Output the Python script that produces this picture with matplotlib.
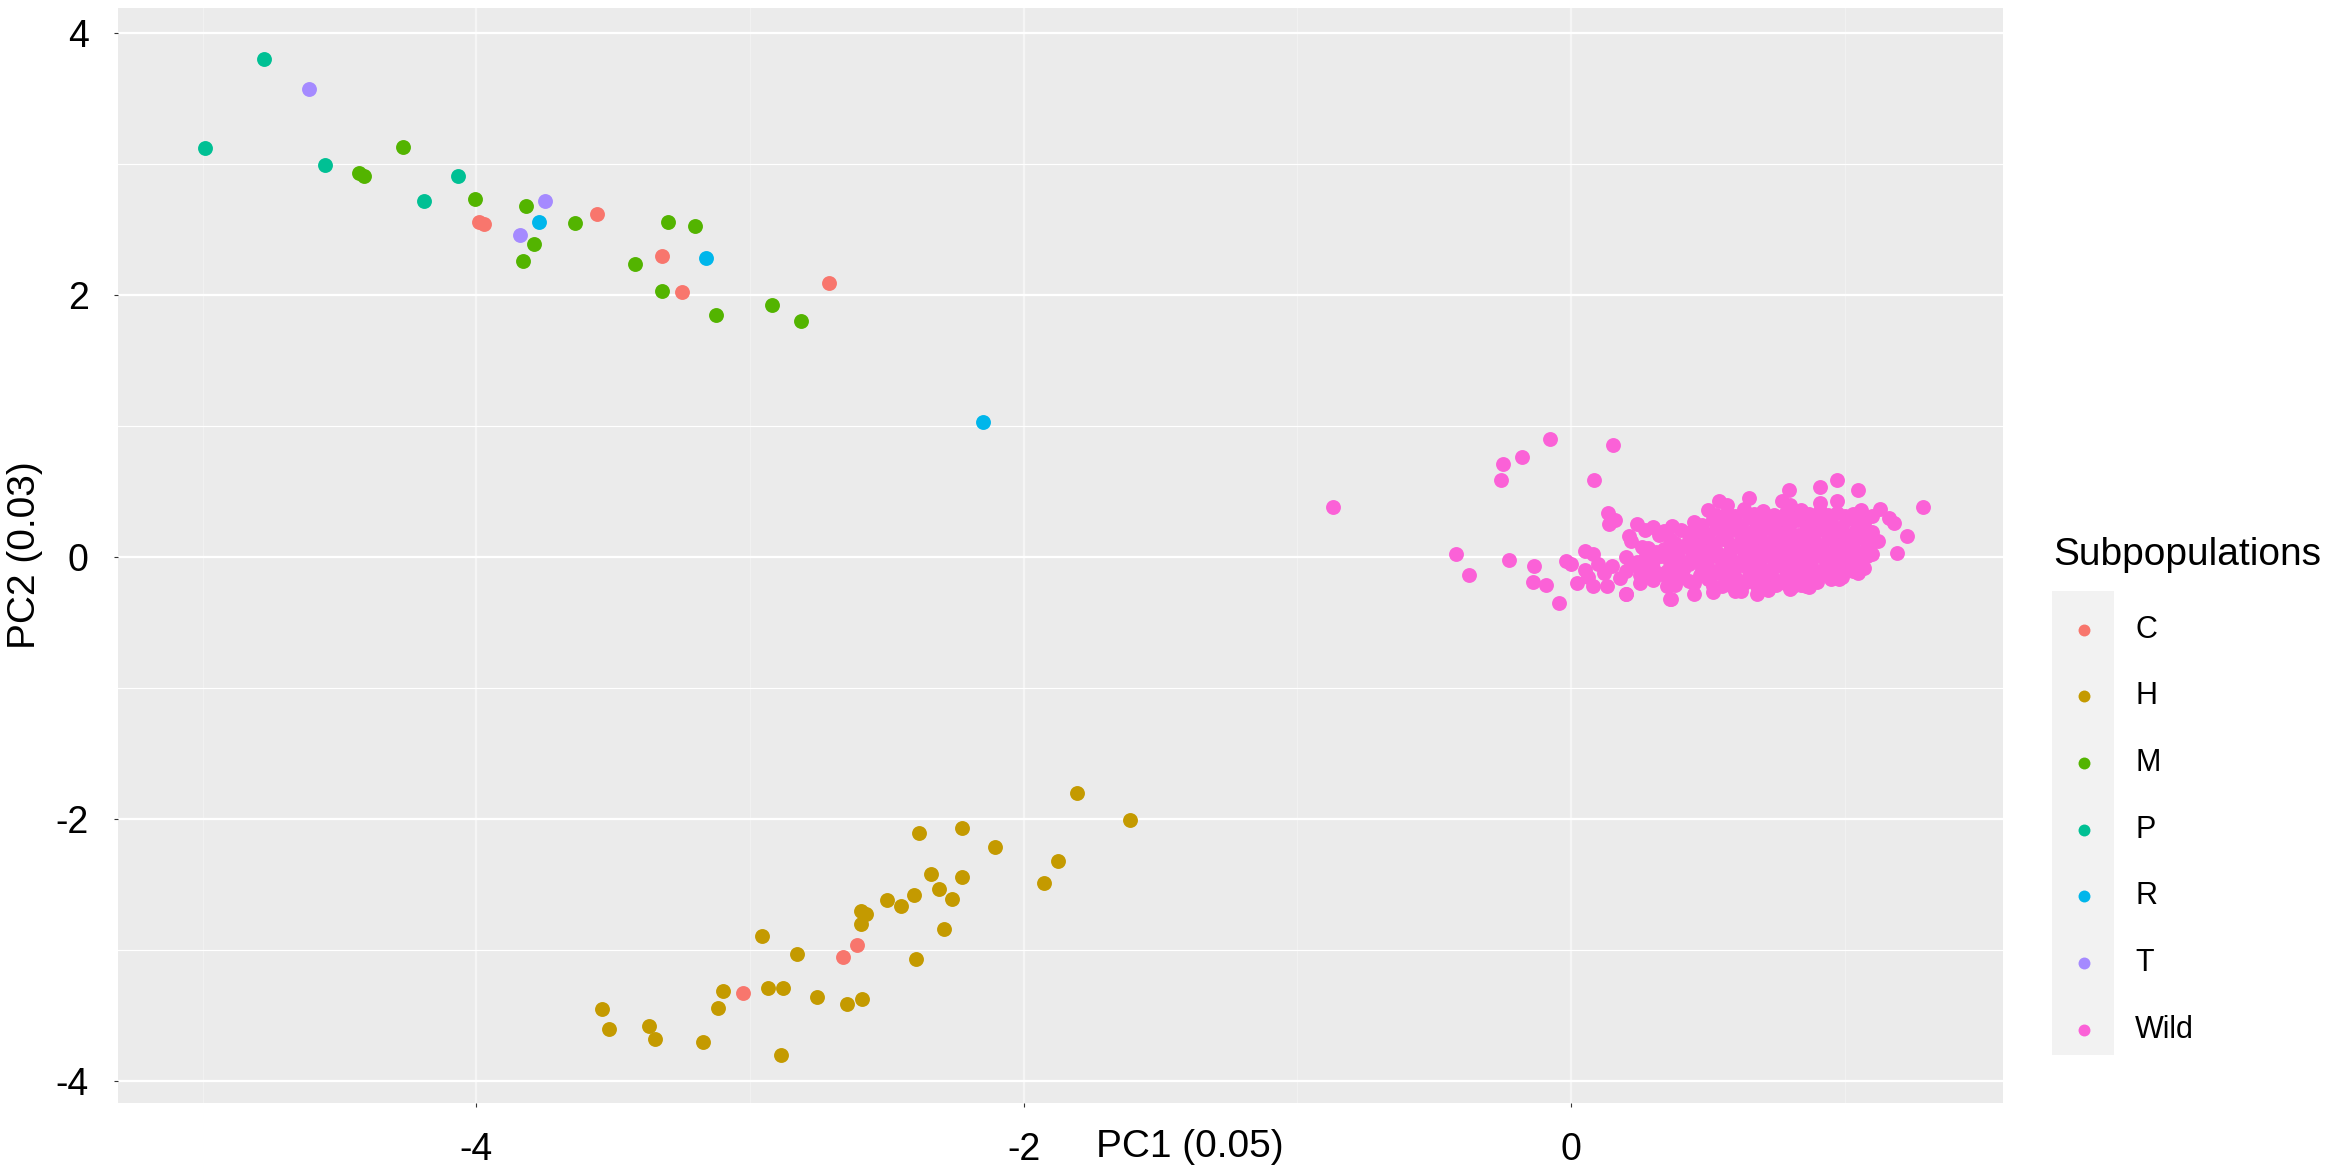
import matplotlib
matplotlib.use('Agg')
import matplotlib.pyplot as plt
from matplotlib.patches import Rectangle

# ---------------- data ----------------
groups = ['C', 'H', 'M', 'P', 'R', 'T', 'Wild']
colors = ['#F8766D', '#C49A00', '#53B400', '#00C094', '#00B6EB', '#A58AFF', '#FB61D7']

c_x = [-3.99, -3.97, -3.56, -3.32, -3.25, -2.71, -2.609, -2.66, -3.024]
c_y = [2.56, 2.54, 2.62, 2.30, 2.02, 2.09, -2.96, -3.05, -3.33]

h_x = [-1.805, -1.613, -2.383, -2.227, -2.103, -1.875, -1.927, -2.34, -2.224, -2.31,
       -2.263, -2.40, -2.50, -2.45, -2.595, -2.576, -2.595, -2.29, -2.395, -2.956,
       -2.827, -2.935, -2.878, -2.755, -2.645, -2.59, -3.10, -3.117, -3.54, -3.514,
       -3.37, -3.346, -3.173, -2.887]
h_y = [-1.80, -2.005, -2.107, -2.07, -2.21, -2.32, -2.49, -2.42, -2.44, -2.53,
       -2.61, -2.58, -2.62, -2.66, -2.70, -2.72, -2.80, -2.84, -3.07, -2.89,
       -3.03, -3.29, -3.29, -3.36, -3.41, -3.37, -3.31, -3.44, -3.45, -3.60,
       -3.58, -3.68, -3.70, -3.80]

m_x = [-4.43, -4.41, -4.267, -4.005, -3.82, -3.79, -3.83, -3.64, -3.30, -3.20,
       -3.42, -3.32, -3.125, -2.92, -2.815]
m_y = [2.93, 2.91, 3.13, 2.73, 2.68, 2.39, 2.26, 2.55, 2.56, 2.53,
       2.24, 2.03, 1.85, 1.92, 1.80]

p_x = [-4.99, -4.774, -4.552, -4.068, -4.19]
p_y = [3.12, 3.80, 2.99, 2.91, 2.72]

r_x = [-3.77, -3.16, -2.15]
r_y = [2.56, 2.28, 1.03]

t_x = [-4.61, -3.75, -3.84]
t_y = [3.57, 2.72, 2.46]

wild_x = [
    # dense core
    0.50, 0.57, 0.63, 0.70, 0.78, 0.84, 0.91, 0.97, 1.03,
    0.45, 0.52, 0.58, 0.65, 0.71, 0.77, 0.83, 0.90, 0.95, 1.01, 1.07,
    0.40, 0.47, 0.53, 0.60, 0.66, 0.72, 0.79, 0.86, 0.92, 0.98, 1.04, 1.10,
    0.36, 0.43, 0.49, 0.55, 0.62, 0.68, 0.74, 0.81, 0.87, 0.94, 1.00, 1.06, 1.12,
    0.28, 0.34, 0.41, 0.47, 0.53, 0.60, 0.66, 0.72, 0.79, 0.85, 0.91, 0.97, 1.03, 1.09,
    0.20, 0.27, 0.33, 0.39, 0.46, 0.52, 0.58, 0.65, 0.71, 0.77, 0.84, 0.90, 0.96, 1.02, 1.08,
    0.15, 0.22, 0.30, 0.37, 0.43, 0.50, 0.56, 0.62, 0.69, 0.75, 0.81, 0.88, 0.94, 1.00,
    0.25, 0.33, 0.40, 0.47, 0.54, 0.60, 0.67, 0.73, 0.80, 0.86, 0.92, 0.99,
    0.38, 0.45, 0.52, 0.58, 0.64, 0.71, 0.78, 0.84, 0.90,
    0.52, 0.60, 0.68,
    0.53, 0.60, 0.67, 0.74, 0.81, 0.87, 0.94, 1.00, 1.05,
    0.48, 0.55, 0.62, 0.68, 0.74, 0.80, 0.87, 0.93, 0.99, 1.05,
    0.44, 0.50, 0.57, 0.63, 0.69, 0.76, 0.83, 0.89, 0.95, 1.01, 1.07,
    0.38, 0.45, 0.52, 0.58, 0.65, 0.71, 0.77, 0.84, 0.90, 0.97, 1.03, 1.08,
    0.31, 0.37, 0.44, 0.50, 0.57, 0.63, 0.69, 0.76, 0.82, 0.88, 0.94, 1.00, 1.06,
    0.24, 0.30, 0.36, 0.43, 0.49, 0.55, 0.62, 0.68, 0.74, 0.80, 0.87, 0.93, 0.99, 1.05,
    0.20, 0.28, 0.35, 0.41, 0.48, 0.53, 0.59, 0.65, 0.71, 0.78, 0.84, 0.91, 0.97, 1.03,
    0.30, 0.37, 0.43, 0.50, 0.57, 0.63, 0.70, 0.76, 0.83, 0.89, 0.95,
    0.55, 0.62, 0.68, 0.75, 0.81, 0.87,
    # edges of the cloud
    0.135, 0.14, 0.16, 0.30, 0.32, 0.44, 0.54, 0.57, 0.65, 0.77, 0.80, 0.91, 0.97, 1.06,
    1.10, 1.13, 1.16, 1.18, 1.09, 1.10, 1.07, 1.05, 0.98, 0.05, 0.00, -0.02, 0.02, 0.06,
    0.08, 0.12, 0.10, 0.05, 0.08, 0.20, 0.25, 0.22, 0.26, 0.36, 0.45, 0.62, 0.72, 0.80,
    0.86, 0.18, 0.13, 0.35, 0.29,
    0.24, 0.27, 0.21, 0.37, 0.34,
    # outlying individuals
    -0.871, -0.077, 0.152, -0.18, -0.248, -0.255, 0.085, -0.42, -0.374, -0.227, -0.137,
    -0.14, -0.093, -0.044, 1.286, 1.228, 1.19, 1.049, 0.972, 0.91, 0.797, 0.20, 0.364]
wild_y = [
    0.36, 0.34, 0.37, 0.35, 0.33, 0.36, 0.35, 0.34, 0.33,
    0.27, 0.29, 0.28, 0.30, 0.27, 0.29, 0.28, 0.30, 0.27, 0.29, 0.26,
    0.21, 0.20, 0.22, 0.21, 0.19, 0.22, 0.20, 0.21, 0.22, 0.20, 0.21, 0.19,
    0.14, 0.13, 0.15, 0.14, 0.12, 0.15, 0.14, 0.13, 0.15, 0.14, 0.13, 0.15, 0.12,
    0.07, 0.06, 0.08, 0.07, 0.05, 0.08, 0.07, 0.06, 0.08, 0.07, 0.06, 0.08, 0.07, 0.05,
    0.00, -0.01, 0.01, 0.00, -0.02, 0.01, 0.00, -0.01, 0.01, 0.00, -0.02, 0.01, 0.00, -0.01, 0.01,
    -0.07, -0.06, -0.08, -0.07, -0.05, -0.08, -0.07, -0.06, -0.08, -0.07, -0.06, -0.08, -0.07, -0.06,
    -0.14, -0.13, -0.15, -0.14, -0.12, -0.15, -0.14, -0.13, -0.15, -0.14, -0.13, -0.15,
    -0.21, -0.20, -0.22, -0.21, -0.19, -0.22, -0.20, -0.21, -0.19,
    -0.27, -0.26, -0.28,
    0.32, 0.31, 0.33, 0.32, 0.30, 0.33, 0.32, 0.31, 0.30,
    0.245, 0.25, 0.24, 0.25, 0.23, 0.25, 0.24, 0.25, 0.23, 0.24,
    0.175, 0.17, 0.18, 0.17, 0.16, 0.18, 0.17, 0.18, 0.17, 0.16, 0.17,
    0.105, 0.10, 0.11, 0.10, 0.09, 0.11, 0.10, 0.11, 0.10, 0.09, 0.10, 0.11,
    0.035, 0.03, 0.04, 0.03, 0.02, 0.04, 0.03, 0.04, 0.03, 0.02, 0.03, 0.04, 0.03,
    -0.035, -0.03, -0.04, -0.03, -0.02, -0.04, -0.03, -0.04, -0.03, -0.02, -0.03, -0.04, -0.03, -0.04,
    -0.105, -0.10, -0.11, -0.10, -0.09, -0.11, -0.10, -0.11, -0.10, -0.09, -0.10, -0.11, -0.10, -0.11,
    -0.175, -0.17, -0.18, -0.17, -0.16, -0.18, -0.17, -0.18, -0.17, -0.16, -0.17,
    -0.22, -0.23, -0.22, -0.21, -0.22, -0.23,
    0.34, 0.25, 0.28, 0.23, 0.17, 0.20, 0.43, 0.40, 0.45, 0.43, 0.40, 0.41, 0.43, 0.36,
    0.31, 0.37, 0.30, 0.26, 0.08, 0.02, -0.08, -0.12, -0.17, -0.10, -0.05, -0.03, -0.20, -0.15,
    -0.22, -0.12, -0.05, 0.05, 0.02, -0.28, -0.20, 0.12, 0.08, -0.32, -0.28, -0.26, -0.25, -0.24,
    -0.22, -0.16, -0.22, -0.22, -0.12,
    0.25, 0.21, 0.16, 0.24, 0.20,
    0.38, 0.90, 0.855, 0.76, 0.71, 0.59, 0.59, 0.02, -0.14, -0.02, -0.07,
    -0.19, -0.21, -0.35, 0.38, 0.16, 0.03, 0.515, 0.59, 0.535, 0.51, -0.28, -0.32]

series_x = [c_x, h_x, m_x, p_x, r_x, t_x, wild_x]
series_y = [c_y, h_y, m_y, p_y, r_y, t_y, wild_y]

x_ticks = [-4, -2, 0]
y_ticks = [-4, -2, 0, 2, 4]
x_label = 'PC1 (0.05)'
y_label = 'PC2 (0.03)'
legend_title = 'Subpopulations'

# ---------------- figure ----------------
plt.rcParams['font.family'] = ['Liberation Sans', 'DejaVu Sans']
plt.rcParams['axes.unicode_minus'] = False
W, H = 2333, 1173
fig = plt.figure(figsize=(W / 100, H / 100), dpi=100)
left, right, top, bottom = 118, 2003, 8, 1103
ax = fig.add_axes([left / W, 1 - bottom / H, (right - left) / W, (bottom - top) / H])
ax.set_facecolor('#EBEBEB')
for s in ax.spines.values():
    s.set_visible(False)
ax.set_xlim(-5.309, 1.578)
ax.set_ylim(-4.166, 4.19)
ax.set_xticks(x_ticks)
ax.set_yticks(y_ticks)
ax.set_xticks([-5, -3, -1, 1], minor=True)
ax.set_yticks([-3, -1, 1, 3], minor=True)
ax.grid(which='major', axis='y', color='white', lw=1.6)
ax.grid(which='minor', axis='y', color='white', lw=0.8)
ax.grid(which='major', axis='x', color='#F5F5F5', lw=1.6)
ax.grid(which='minor', axis='x', color='#F1F1F1', lw=0.8)
ax.set_axisbelow(True)
ax.tick_params(which='minor', length=0)
ax.tick_params(which='major', length=3, width=0.8, color='#333333',
               labelsize=27, pad=18, labelcolor='black')

for g, col, xs, ys in zip(groups, colors, series_x, series_y):
    ax.scatter(xs, ys, s=115, color=col, linewidths=0, label=g, zorder=3)

ax.set_xlabel(x_label, fontsize=28, va='center')
ax.xaxis.set_label_coords((1190 - left) / (right - left), (bottom - 1147) / (bottom - top))
ax.set_ylabel(y_label, fontsize=28, va='center')
ax.yaxis.set_label_coords((25 - left) / (right - left), 0.5)

leg = ax.legend(title=legend_title, loc='upper left',
                bbox_to_anchor=(2053 / W, 1 - 537 / H), bbox_transform=fig.transFigure,
                frameon=False, fontsize=22, title_fontsize=28, markerscale=0.8,
                handlelength=2.03, handletextpad=0.66, labelspacing=1.2,
                borderpad=0, borderaxespad=0, scatterpoints=1)
leg._legend_box.align = 'left'
leg._legend_box.sep = 30.0
leg.set_zorder(6)

key_bg = Rectangle((2052 / W, 1 - 1055 / H), 62 / W, (1055 - 591) / H,
                   transform=fig.transFigure, facecolor='#F2F2F2',
                   edgecolor='none', zorder=5, clip_on=False)
ax.add_patch(key_bg)

fig.savefig('out.png', dpi=100)
